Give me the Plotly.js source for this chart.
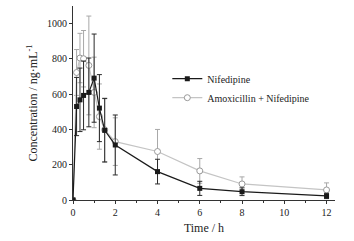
<!DOCTYPE html>
<html>
<head>
<meta charset="utf-8">
<script src="https://cdn.plot.ly/plotly-3.0.1.min.js"></script>
<style>html,body{margin:0;padding:0;background:#fff;}#chart{width:354px;height:241px;}</style>
</head>
<body>
<div id="chart"></div>
<script>
const time = [0, 0.17, 0.33, 0.5, 0.75, 1, 1.25, 1.5, 2, 4, 6, 8, 12];
const nifedipine = [0, 530, 568, 593, 610, 691, 521, 395, 312, 161, 66, 47, 23];
const nifedipineSD = [0, 165, 180, 195, 195, 250, 190, 180, 170, 70, 40, 22, 15];
const amoxNif = [0, 723, 805, 801, 763, 610, 473, 398, 331, 275, 165, 91, 57];
const amoxNifSD = [0, 130, 140, 160, 280, 200, 185, 180, 135, 125, 70, 40, 40];
const seriesNames = ["Nifedipine", "Amoxicillin + Nifedipine"];
const xTicks = [0, 2, 4, 6, 8, 10, 12];
const yTicks = [0, 200, 400, 600, 800, 1000];

const font = {family: "Liberation Serif, Times New Roman, serif", color: "#222"};

const traces = [
  {
    x: time, y: amoxNif, name: seriesNames[1], type: "scatter", mode: "lines+markers",
    line: {color: "#c4c4c4", width: 1.2},
    marker: {symbol: "circle", size: 6, color: "#fff", line: {color: "#9a9a9a", width: 1}},
    error_y: {type: "data", array: amoxNifSD, visible: true, color: "#a8a8a8", thickness: 1, width: 2.5}
  },
  {
    x: time, y: nifedipine, name: seriesNames[0], type: "scatter", mode: "lines+markers",
    line: {color: "#1a1a1a", width: 1.2},
    marker: {symbol: "square", size: 5, color: "#1a1a1a"},
    error_y: {type: "data", array: nifedipineSD, visible: true, color: "#2a2a2a", thickness: 1, width: 2.5}
  }
];

const layout = {
  width: 354, height: 241,
  margin: {l: 73, r: 19, t: 6, b: 41},
  paper_bgcolor: "#fff", plot_bgcolor: "#fff",
  font: Object.assign({size: 10}, font),
  showlegend: true,
  legend: {
    x: 0.36, y: 0.7, xanchor: "left", yanchor: "top",
    traceorder: "reversed", bgcolor: "rgba(0,0,0,0)",
    font: Object.assign({size: 10}, font),
    tracegroupgap: 0, itemwidth: 30
  },
  xaxis: {
    range: [0, 12.4], tickvals: xTicks, ticktext: xTicks.map(String),
    showgrid: false, zeroline: false, showline: true, linecolor: "#333", linewidth: 1,
    ticks: "outside", ticklen: 3, tickcolor: "#333",
    minor: {dtick: 1, ticks: "outside", ticklen: 2, tickcolor: "#333"},
    tickfont: Object.assign({size: 10}, font),
    title: {text: "Time / h", font: Object.assign({size: 12}, font), standoff: 6}
  },
  yaxis: {
    range: [0, 1100], tickvals: yTicks, ticktext: yTicks.map(String),
    showgrid: false, zeroline: false, showline: true, linecolor: "#333", linewidth: 1,
    ticks: "outside", ticklen: 3, tickcolor: "#333",
    tickfont: Object.assign({size: 10}, font),
    title: {text: "Concentration / ng·mL<sup>-1</sup>", font: Object.assign({size: 12}, font), standoff: 6}
  }
};

Plotly.newPlot("chart", traces, layout, {staticPlot: true, displayModeBar: false});
</script>
</body>
</html>
